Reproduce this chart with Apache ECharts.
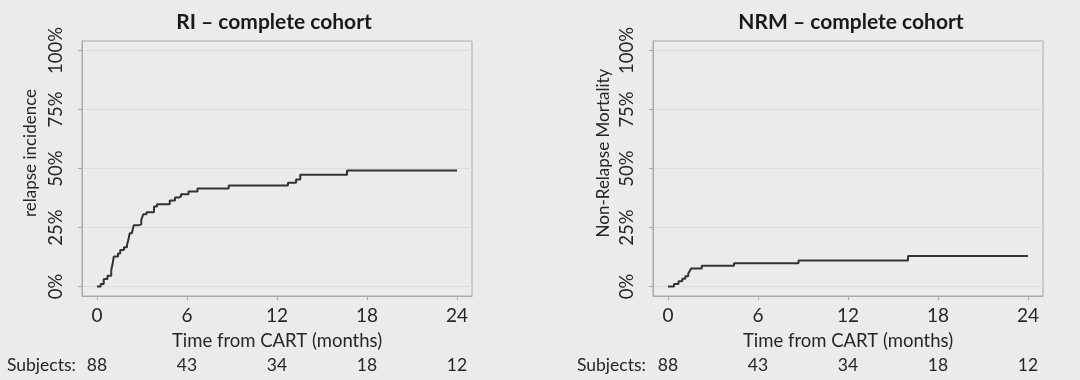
<!DOCTYPE html>
<html>
<head>
<meta charset="utf-8">
<script src="https://cdn.jsdelivr.net/npm/echarts@6/dist/echarts.min.js"></script>
<style>
html,body{margin:0;padding:0;background:#ebebeb;}
#chart{width:1080px;height:380px;}
</style>
</head>
<body>
<div id="chart"></div>
<script>
// ---- data ----
const xTicks = [0, 6, 12, 18, 24];
const yTicks = [0, 25, 50, 75, 100];
const subjectsRI = [88, 43, 34, 18, 12];
const subjectsNRM = [88, 43, 34, 18, 12];

const riTime  = [0, 0.25, 0.45, 0.7, 0.95, 1.05, 1.12, 1.4, 1.55, 1.8, 2.0, 2.1, 2.18, 2.32, 2.45, 2.8, 2.95, 3.08, 3.3, 3.8, 4.0, 4.85, 5.2, 5.45, 5.6, 6.1, 6.7, 8.78, 12.73, 13.27, 13.55, 16.67, 24];
const riValue = [0, 1.1, 3.2, 4.6, 7.0, 10.0, 12.7, 14.0, 15.5, 16.6, 17.6, 20.0, 22.6, 23.3, 26.0, 26.4, 28.2, 30.6, 31.5, 33.9, 34.9, 36.4, 37.7, 38.1, 39.1, 40.3, 41.5, 42.8, 44.0, 45.3, 47.4, 49.2, 49.2];

const nrmTime  = [0, 0.4, 0.7, 0.95, 1.15, 1.35, 1.45, 1.55, 2.25, 4.4, 8.7, 16.0, 24];
const nrmValue = [0, 1.1, 2.2, 3.3, 4.4, 5.5, 6.6, 7.7, 8.8, 9.9, 11.0, 12.9, 12.9];

const titles = ['RI \u2013 complete cohort', 'NRM \u2013 complete cohort'];
const yNames = ['relapse incidence', 'Non-Relapse Mortality'];
const xName = 'Time from CART (months)';
const subjectsLabel = 'Subjects:';

// ---- build ----
const FONT = 'Lato';
const textColor = '#262626';
const frameColor = '#a9a9a9';
const zip = (a, b) => a.map((t, i) => [t, b[i]]);

const grids = [
  {left: 82, top: 41, width: 390, height: 255, show: true, borderColor: frameColor, borderWidth: 1, backgroundColor: 'transparent'},
  {left: 653, top: 41, width: 390, height: 255, show: true, borderColor: frameColor, borderWidth: 1, backgroundColor: 'transparent'}
];

function mainX(gi) {
  return {
    type: 'value', gridIndex: gi, min: -1, max: 25, position: 'bottom',
    name: xName, nameLocation: 'middle', nameGap: 36,
    nameTextStyle: {fontFamily: FONT, fontSize: 18.5, color: textColor},
    axisLine: {show: true, onZero: false, lineStyle: {color: frameColor}},
    axisTick: {show: true, length: 4, customValues: xTicks, lineStyle: {color: frameColor}},
    axisLabel: {customValues: xTicks, margin: 10, fontFamily: FONT, fontSize: 19, color: textColor},
    splitLine: {show: false}
  };
}
function subjX(gi, subj) {
  return {
    type: 'value', gridIndex: gi, min: -1, max: 25, position: 'bottom',
    axisLine: {show: false}, axisTick: {show: false}, splitLine: {show: false},
    axisLabel: {customValues: xTicks, margin: 60, fontFamily: FONT, fontSize: 17.5, color: textColor,
      formatter: v => String(subj[xTicks.indexOf(v)])}
  };
}
function mainY(gi) {
  return {
    type: 'value', gridIndex: gi, min: -4, max: 104,
    axisLine: {show: true, onZero: false, lineStyle: {color: frameColor}},
    axisTick: {show: true, length: 4, customValues: yTicks, lineStyle: {color: frameColor}},
    axisLabel: {customValues: yTicks, rotate: 90, margin: 16, fontFamily: FONT, fontSize: 18.5, color: textColor,
      formatter: v => v + '%'},
    splitLine: {show: true, lineStyle: {color: '#dcdcdc', width: 1}}
  };
}

const option = {
  backgroundColor: '#ebebeb',
  animation: false,
  title: [
    {text: titles[0], left: 269, top: 7, textAlign: 'center',
     textStyle: {fontFamily: FONT, fontSize: 21, fontWeight: 'bold', color: '#1a1a1a'}},
    {text: titles[1], left: 846, top: 7, textAlign: 'center',
     textStyle: {fontFamily: FONT, fontSize: 21, fontWeight: 'bold', color: '#1a1a1a'}}
  ],
  grid: grids,
  xAxis: [mainX(0), subjX(0, subjectsRI), mainX(1), subjX(1, subjectsNRM)],
  yAxis: [mainY(0), mainY(1)],
  graphic: [
    {type: 'text', x: 31, y: 153, rotation: Math.PI / 2,
     style: {text: yNames[0], fontFamily: FONT, fontSize: 17, fill: textColor, align: 'center', verticalAlign: 'middle'}},
    {type: 'text', x: 604, y: 153, rotation: Math.PI / 2,
     style: {text: yNames[1], fontFamily: FONT, fontSize: 17, fill: textColor, align: 'center', verticalAlign: 'middle'}},
    {type: 'text', x: 7, y: 365,
     style: {text: subjectsLabel, fontFamily: FONT, fontSize: 17.5, fill: textColor, align: 'left', verticalAlign: 'middle'}},
    {type: 'text', x: 577, y: 365,
     style: {text: subjectsLabel, fontFamily: FONT, fontSize: 17.5, fill: textColor, align: 'left', verticalAlign: 'middle'}}
  ],
  series: [
    {type: 'line', xAxisIndex: 0, yAxisIndex: 0, step: 'end', showSymbol: false, silent: true,
     data: zip(riTime, riValue), lineStyle: {color: '#333333', width: 2}},
    {type: 'line', xAxisIndex: 2, yAxisIndex: 1, step: 'end', showSymbol: false, silent: true,
     data: zip(nrmTime, nrmValue), lineStyle: {color: '#333333', width: 2}}
  ]
};

const chart = echarts.init(document.getElementById('chart'), null, {renderer: 'canvas'});
chart.setOption(option);
</script>
</body>
</html>
